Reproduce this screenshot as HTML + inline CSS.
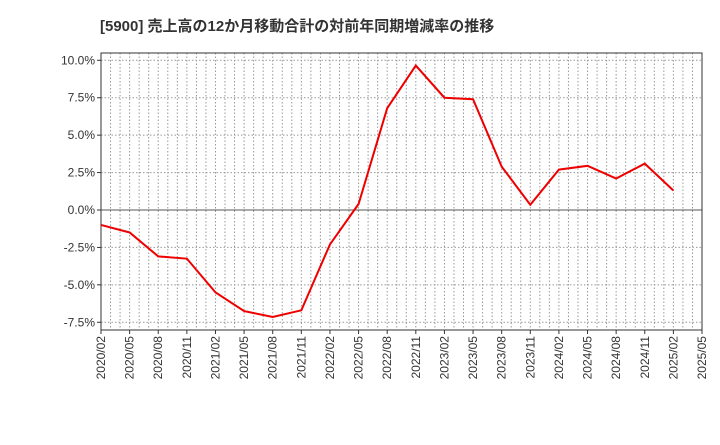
<!DOCTYPE html>
<html><head><meta charset="utf-8"><style>
body{margin:0;background:#fff;width:720px;height:440px;overflow:hidden}
svg text{font-family:"Liberation Sans","Noto Sans CJK JP",sans-serif}
</style></head><body>
<svg id="c" width="720" height="440">
<text x="100" y="31" font-size="15" font-weight="bold" fill="#333">[5900]  売上高の12か月移動合計の対前年同期増減率の推移</text>
<g id="grid"></g><g id="axes"></g><g id="series"></g>
</svg>
<script>
const categories=["2020/02","2020/05","2020/08","2020/11","2021/02","2021/05","2021/08","2021/11","2022/02","2022/05","2022/08","2022/11","2023/02","2023/05","2023/08","2023/11","2024/02","2024/05","2024/08","2024/11","2025/02","2025/05"];
const values=[-1.0,-1.5,-3.1,-3.25,-5.5,-6.75,-7.15,-6.7,-2.3,0.4,6.8,9.65,7.5,7.4,2.9,0.35,2.7,2.95,2.1,3.1,1.3];
const yTicks=[10,7.5,5,2.5,0,-2.5,-5,-7.5];
const yTickLabels=["10.0%","7.5%","5.0%","2.5%","0.0%","-2.5%","-5.0%","-7.5%"];
const NS="http://www.w3.org/2000/svg";
const L=101,R=702,T=53,B=330;
const xs=i=>L+(R-L)*i/(categories.length-1);
const ys=v=>210-v*14.97;
function mk(t,a,p){const e=document.createElementNS(NS,t);for(const k in a)e.setAttribute(k,a[k]);p.appendChild(e);return e;}
const g=document.getElementById('grid'),ax=document.getElementById('axes'),s=document.getElementById('series');
const nm=(categories.length-1)*3;
for(let m=1;m<nm;m++){const x=L+(R-L)*m/nm;
const ln=mk('line',{x1:x,x2:x,y1:T,y2:B,stroke:'#999','stroke-dasharray':'1.5,2','stroke-width':1},g);
}
yTicks.forEach((v,i)=>{const y=ys(v);
const ln=mk('line',{x1:L,x2:R,y1:y,y2:y,stroke:v===0?'#555':'#999','stroke-dasharray':v===0?'':'1.5,2','stroke-width':1},g);

const t=mk('text',{x:L-6,y:y+4,'text-anchor':'end','font-size':12,fill:'#333'},ax);t.textContent=yTickLabels[i];

mk('line',{x1:L-4,x2:L,y1:y,y2:y,stroke:'#333'},ax);});
categories.forEach((c,i)=>{const x=xs(i);
const t=mk('text',{x:0,y:0,'text-anchor':'end','font-size':12,fill:'#333',transform:`translate(${x+4},${B+6}) rotate(-90)`},ax);t.textContent=c;

mk('line',{x1:x,x2:x,y1:B,y2:B+4,stroke:'#333'},ax);});
const fr=mk('rect',{x:L,y:T,width:R-L,height:B-T,fill:'none',stroke:'#333'},ax);

const pl=mk('polyline',{points:values.map((v,i)=>xs(i)+','+ys(v)).join(' '),fill:'none',stroke:'#e00','stroke-width':2},s);

</script></body></html>
